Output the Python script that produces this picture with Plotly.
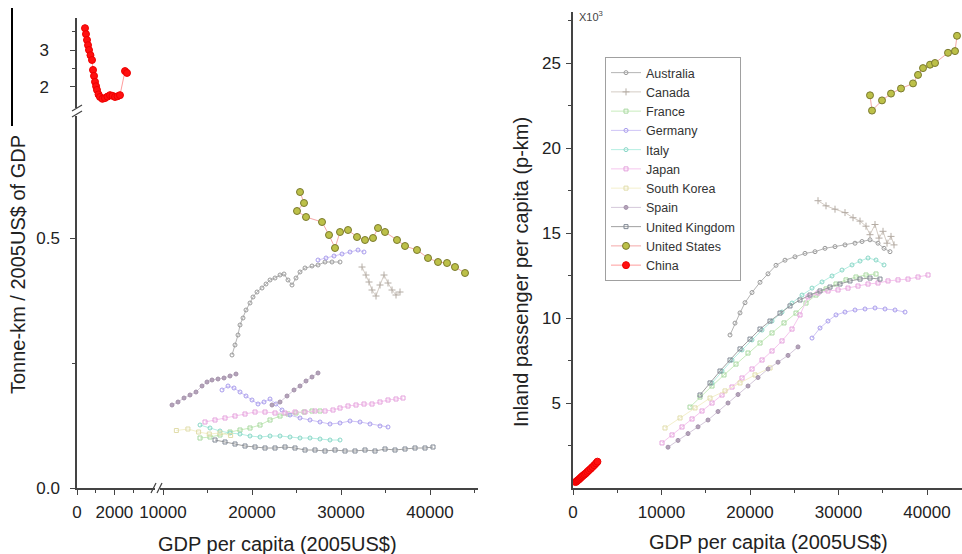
import plotly.graph_objects as go

W, H = 962, 554

# ---------------- data ----------------
# Left panel (freight intensity, tonne-km / 2005US$ GDP) vs GDP per capita
cn_l_gdp = [428, 480, 535, 590, 642, 720, 802, 856, 910, 963, 1020, 1070, 1150, 1230, 1360, 1497, 1630, 1765, 1900, 2032, 2170, 2299, 2567, 2674]
cn_l_y = [3.59, 3.43, 3.27, 3.13, 3.00, 2.86, 2.73, 2.46, 2.30, 2.14, 2.02, 1.92, 1.80, 1.73, 1.68, 1.70, 1.74, 1.78, 1.76, 1.73, 1.75, 1.78, 2.43, 2.38]

us_l_gdp = [25393, 25843, 25056, 26067, 27865, 28652, 29326, 29888, 30787, 31798, 32697, 33596, 34157, 34944, 36292, 37191, 38539, 39775, 40899, 41910, 42809, 43933]
us_l_y = [0.592, 0.570, 0.554, 0.542, 0.532, 0.506, 0.480, 0.512, 0.516, 0.502, 0.496, 0.500, 0.520, 0.512, 0.496, 0.484, 0.476, 0.460, 0.452, 0.450, 0.442, 0.430]

au_l_gdp = [17753, 18090, 18427, 18652, 18989, 19326, 19775, 20112, 20562, 21124, 21573, 22022, 22584, 23146, 23596, 24045, 24494, 24944, 25393, 25955, 26742, 27416, 28202, 28989, 29888]
au_l_y = [0.266, 0.286, 0.306, 0.326, 0.340, 0.356, 0.370, 0.382, 0.392, 0.400, 0.408, 0.416, 0.420, 0.426, 0.428, 0.416, 0.406, 0.420, 0.432, 0.440, 0.444, 0.446, 0.452, 0.452, 0.452]

ca_l_gdp = [32360, 32809, 33146, 33483, 33933, 34382, 34831, 35281, 35730, 36180, 36629]
ca_l_y = [0.442, 0.426, 0.412, 0.396, 0.384, 0.406, 0.426, 0.410, 0.396, 0.386, 0.392]

fr_l_gdp = [14157, 15281, 16404, 17528, 18652, 19775, 20899, 22022, 23146, 24045, 24944, 25843, 26742, 27640]
fr_l_y = [0.100, 0.102, 0.106, 0.112, 0.116, 0.120, 0.126, 0.136, 0.144, 0.148, 0.150, 0.152, 0.154, 0.154]

de_l_gdp = [27416, 28315, 29213, 30112, 31011, 31910, 32584, None,
            16629, 17303, 17978, 18652, 19326, 20000, 20674, 21348, 22022, 22697, 23371, 24270, 25393, 26517, 27640, 28764, 29888, 31011, 32135, 33258, 34382, 35281]
de_l_y = [0.456, 0.460, 0.464, 0.468, 0.472, 0.476, 0.472, None,
          0.196, 0.204, 0.200, 0.192, 0.184, 0.176, 0.168, 0.172, 0.178, 0.168, 0.156, 0.146, 0.140, 0.136, 0.132, 0.128, 0.130, 0.134, 0.132, 0.128, 0.124, 0.122]

it_l_gdp = [14157, 15281, 16404, 17528, 18652, 19775, 20899, 22022, 23146, 24270, 25393, 26517, 27640, 28764, 29888]
it_l_y = [0.126, 0.120, 0.114, 0.110, 0.108, 0.104, 0.102, 0.104, 0.104, 0.102, 0.100, 0.100, 0.098, 0.096, 0.096]

jp_l_gdp = [14719, 15843, 16966, 18090, 19213, 20337, 21461, 22584, 23708, 24831, 25955, 27079, 28202, 29101, 29888, 30787, 31685, 32584, 33483, 34382, 35281, 36180, 36966]
jp_l_y = [0.132, 0.136, 0.140, 0.144, 0.148, 0.152, 0.152, 0.150, 0.150, 0.152, 0.152, 0.154, 0.154, 0.156, 0.160, 0.164, 0.166, 0.168, 0.168, 0.172, 0.176, 0.178, 0.180]

kr_l_gdp = [11500, 12800, 14000, 15200, 16400, 17600]
kr_l_y = [0.115, 0.118, 0.112, 0.108, 0.110, 0.105]

sp_l_gdp = [11011, 11685, 12360, 13034, 13708, 14382, 14944, 15506, 16180, 16854, 17528, 18202, None, 22247, 23146, 23933, 24719, 25393, 26067, 26742, 27416]
sp_l_y = [0.166, 0.172, 0.180, 0.186, 0.192, 0.204, 0.212, 0.216, 0.218, 0.220, 0.224, 0.228, None, 0.166, 0.172, 0.184, 0.196, 0.204, 0.214, 0.222, 0.230]

uk_l_gdp = [15843, 16966, 18090, 19213, 20337, 21461, 22584, 23708, 24831, 25955, 27079, 28202, 29326, 30449, 31573, 32697, 33820, 34944, 36067, 37191, 38315, 39438, 40337]
uk_l_y = [0.096, 0.092, 0.088, 0.084, 0.082, 0.080, 0.080, 0.082, 0.080, 0.076, 0.076, 0.074, 0.076, 0.074, 0.074, 0.076, 0.074, 0.078, 0.076, 0.078, 0.080, 0.080, 0.082]

# Right panel (inland passenger-km per capita, x10^3) vs GDP per capita
cn_r_gdp = [300, 420, 540, 660, 780, 900, 1020, 1150, 1300, 1460, 1620, 1800, 1990, 2190, 2400, 2600, 2760]
cn_r_y = [0.35, 0.40, 0.45, 0.50, 0.56, 0.62, 0.68, 0.74, 0.80, 0.87, 0.95, 1.04, 1.13, 1.23, 1.34, 1.45, 1.55]

us_r_gdp = [33559, 33785, 34915, 35932, 37062, 38418, 38983, 39548, 40339, 40904, 42373, 43164, 43390]
us_r_y = [23.1, 22.2, 22.8, 23.2, 23.5, 23.8, 24.3, 24.7, 24.9, 25.0, 25.6, 25.7, 26.6]

au_r_gdp = [17740, 18305, 18870, 19435, 20226, 21130, 22034, 22938, 23955, 25085, 26215, 27345, 28475, 29605, 30735, 31864, 32655, 33559, 34463, 35141, 35819]
au_r_y = [9.0, 9.7, 10.3, 10.9, 11.5, 12.1, 12.6, 13.1, 13.4, 13.6, 13.8, 13.9, 14.1, 14.2, 14.3, 14.4, 14.5, 14.6, 14.4, 14.1, 13.9]

ca_r_gdp = [27685, 28589, 29606, 30736, 31640, 32431, 33109, 33561, 34126, 34578, 35030, 35482, 35934, 36273]
ca_r_y = [16.9, 16.6, 16.4, 16.2, 15.9, 15.7, 15.4, 14.9, 15.5, 14.7, 15.1, 14.4, 14.8, 14.3]

fr_r_gdp = [13221, 14351, 15707, 17063, 18419, 19775, 21131, 22487, 23843, 25199, 26329, 27459, 28589, 29719, 30849, 31979, 33109, 34239]
fr_r_y = [4.76, 5.35, 6.00, 6.65, 7.29, 7.94, 8.53, 9.12, 9.71, 10.29, 10.88, 11.35, 11.71, 12.00, 12.24, 12.41, 12.53, 12.59]

de_r_gdp = [27007, 27911, 28815, 29719, 30736, 31866, 32996, 34126, 35256, 36386, 37516]
de_r_y = [8.82, 9.41, 9.82, 10.18, 10.35, 10.47, 10.53, 10.59, 10.53, 10.47, 10.35]

it_r_gdp = [15707, 16837, 17967, 19097, 20227, 21357, 22487, 23617, 24747, 25877, 27007, 28137, 29267, 30397, 31527, 32431, 33335, 34239, 35143]
it_r_y = [6.18, 6.88, 7.53, 8.12, 8.71, 9.29, 9.82, 10.35, 10.88, 11.35, 11.76, 12.12, 12.47, 12.82, 13.12, 13.35, 13.53, 13.41, 13.12]

jp_r_gdp = [10057, 11187, 12317, 13447, 14577, 15707, 16837, 17967, 19097, 20227, 21357, 22487, 23617, 24747, 25651, 26555, 27685, 28815, 29945, 31075, 32205, 33335, 34465, 35595, 36725, 37855, 38985, 40115]
jp_r_y = [2.65, 3.12, 3.59, 4.06, 4.53, 5.00, 5.47, 5.94, 6.47, 7.00, 7.53, 8.06, 8.65, 9.35, 10.18, 11.24, 11.47, 11.59, 11.65, 11.76, 11.88, 12.00, 12.06, 12.18, 12.24, 12.29, 12.41, 12.53]

kr_r_gdp = [10396, 12091, 13786, 15481, 17176, 18871, 20566, 22261]
kr_r_y = [3.53, 4.12, 4.71, 5.29, 5.71, 6.18, 6.65, 7.06]

sp_r_gdp = [10735, 11865, 12995, 14125, 15255, 16385, 17515, 18645, 19775, 20905, 22035, 23165, 24295, 25425]
sp_r_y = [2.4, 2.8, 3.2, 3.6, 4.0, 4.5, 5.0, 5.5, 6.0, 6.5, 7.0, 7.4, 7.8, 8.3]

uk_r_gdp = [14351, 15481, 16611, 17741, 18871, 20001, 21131, 22261, 23391, 24521, 25651, 26781, 27911, 29041, 30171, 31301, 32431, 33561, 34691]
uk_r_y = [5.47, 6.18, 6.88, 7.53, 8.18, 8.76, 9.35, 9.82, 10.29, 10.71, 11.06, 11.35, 11.59, 11.82, 12.00, 12.18, 12.29, 12.35, 12.29]

countries = ["Australia", "Canada", "France", "Germany", "Italy", "Japan",
             "South Korea", "Spain", "United Kingdom", "United States", "China"]

left_data = {
    "Australia": (au_l_gdp, au_l_y), "Canada": (ca_l_gdp, ca_l_y), "France": (fr_l_gdp, fr_l_y),
    "Germany": (de_l_gdp, de_l_y), "Italy": (it_l_gdp, it_l_y), "Japan": (jp_l_gdp, jp_l_y),
    "South Korea": (kr_l_gdp, kr_l_y), "Spain": (sp_l_gdp, sp_l_y), "United Kingdom": (uk_l_gdp, uk_l_y),
    "United States": (us_l_gdp, us_l_y), "China": (cn_l_gdp, cn_l_y),
}
right_data = {
    "Australia": (au_r_gdp, au_r_y), "Canada": (ca_r_gdp, ca_r_y), "France": (fr_r_gdp, fr_r_y),
    "Germany": (de_r_gdp, de_r_y), "Italy": (it_r_gdp, it_r_y), "Japan": (jp_r_gdp, jp_r_y),
    "South Korea": (kr_r_gdp, kr_r_y), "Spain": (sp_r_gdp, sp_r_y), "United Kingdom": (uk_r_gdp, uk_r_y),
    "United States": (us_r_gdp, us_r_y), "China": (cn_r_gdp, cn_r_y),
}

# ---------------- styles ----------------
styles = {
    "Australia":      dict(line="#b4b4b4", mcol="#9a9a9a", sym="circle-open", size=4, mline="#9a9a9a"),
    "Canada":         dict(line="#d4ccc4", mcol="#b4aca4", sym="cross-thin-open", size=5, mline="#b4aca4"),
    "France":         dict(line="#c8ecbc", mcol="#a8d8a0", sym="square-open", size=4, mline="#a8d8a0"),
    "Germany":        dict(line="#cfc4f6", mcol="#a89cec", sym="circle-open", size=4, mline="#a89cec"),
    "Italy":          dict(line="#b4eee2", mcol="#88d6c6", sym="circle-open", size=4, mline="#88d6c6"),
    "Japan":          dict(line="#f6c6ee", mcol="#e4a0dc", sym="square-open", size=4, mline="#e4a0dc"),
    "South Korea":    dict(line="#f4f0cc", mcol="#e0dcaa", sym="square-open", size=4, mline="#e0dcaa"),
    "Spain":          dict(line="#d4c8da", mcol="#b4a2ba", sym="circle", size=4, mline="#a492aa"),
    "United Kingdom": dict(line="#a0a0a0", mcol="#808894", sym="square-open", size=4, mline="#808894"),
    "United States":  dict(line="#f4a8a8", mcol="#bcc048", sym="circle", size=7, mline="#7a7a2e"),
    "China":          dict(line="#ff9c9c", mcol="#ff1010", sym="circle", size=7, mline="#ee0000"),
}

fig = go.Figure()
for name in countries:
    st = styles[name]
    marker = dict(symbol=st["sym"], size=st["size"], color=st["mcol"],
                  line=dict(color=st["mline"], width=1))
    lx, ly = left_data[name]
    if name == "China":
        xa, ya = "x", "y3"
    else:
        xa, ya = "x2", "y"
    fig.add_trace(go.Scatter(x=lx, y=ly, mode="lines+markers", name=name, legendgroup=name,
                             line=dict(color=st["line"], width=1), marker=marker,
                             xaxis=xa, yaxis=ya, showlegend=True, connectgaps=False))
    rx, ry = right_data[name]
    fig.add_trace(go.Scatter(x=rx, y=ry, mode="lines+markers", name=name, legendgroup=name,
                             line=dict(color=st["line"], width=1), marker=marker,
                             xaxis="x3", yaxis="y4", showlegend=False))

# ---------------- layout ----------------
def px_x(p):
    return p / W

def px_y(p):
    return (H - p) / H

AX = dict(showline=True, linecolor="#444", linewidth=1.5, ticks="outside", ticklen=5,
          tickwidth=1, tickcolor="#444", showgrid=False, zeroline=False, automargin=False,
          tickfont=dict(size=17, color="#222"), fixedrange=True)
XSTAND = 3
YSTAND = 7

fig.update_layout(
    width=W, height=H, margin=dict(l=0, r=0, t=0, b=0, autoexpand=False),
    paper_bgcolor="white", plot_bgcolor="white",
    font=dict(family="Liberation Sans, Arial, sans-serif", size=17, color="#222"),
    showlegend=True,
    legend=dict(x=px_x(605), y=px_y(57), xanchor="left", yanchor="top",
                bordercolor="#a0a0a0", borderwidth=1, bgcolor="rgba(255,255,255,0.9)",
                font=dict(size=12.5, color="#333"), tracegroupgap=0, itemwidth=30),
    # left panel, first x segment (China)
    xaxis=dict(AX, domain=[px_x(77), px_x(155)], range=[0, 4171], anchor="y",
               tickmode="array", tickvals=[0, 2000], ticktext=["0", "2000"], ticklabelstandoff=XSTAND,
               minor=dict(tickvals=[1000, 3000], ticks="outside", ticklen=3, tickcolor="#444")),
    # left panel, second x segment
    xaxis2=dict(AX, domain=[px_x(160), px_x(478)], range=[9663, 45393], anchor="y",
                tickmode="array", tickvals=[10000, 20000, 30000, 40000],
                ticktext=["10000", "20000", "30000", "40000"], ticklabelstandoff=XSTAND,
                minor=dict(tickvals=[15000, 25000, 35000, 45000], ticks="outside", ticklen=3, tickcolor="#444")),
    # left panel, lower y segment
    yaxis=dict(AX, domain=[px_y(488), px_y(116)], range=[0, 0.744], anchor="x",
               tickmode="array", tickvals=[0, 0.5], ticktext=["0.0", "0.5"], ticklabelstandoff=YSTAND,
               minor=dict(tickvals=[0.25], ticks="outside", ticklen=3, tickcolor="#444")),
    # left panel, upper y segment
    yaxis3=dict(AX, domain=[px_y(108), px_y(18)], range=[1.432, 3.865], anchor="x",
                tickmode="array", tickvals=[2, 3], ticktext=["2", "3"], ticklabelstandoff=18,
                minor=dict(tickvals=[2.5, 3.5], ticks="outside", ticklen=3, tickcolor="#444")),
    # right panel
    xaxis3=dict(AX, domain=[px_x(573), 1.0], range=[0, 43955], anchor="y4",
                tickmode="array", tickvals=[0, 10000, 20000, 30000, 40000],
                ticktext=["0", "10000", "20000", "30000", "40000"], ticklabelstandoff=XSTAND,
                minor=dict(tickvals=[5000, 15000, 25000, 35000], ticks="outside", ticklen=3, tickcolor="#444")),
    yaxis4=dict(AX, domain=[px_y(488), px_y(12)], range=[0, 28], anchor="x3",
                tickmode="array", tickvals=[5, 10, 15, 20, 25], ticktext=["5", "10", "15", "20", "25"],
                ticklabelstandoff=2,
                minor=dict(tickvals=[2.5, 7.5, 12.5, 17.5, 22.5, 27.5], ticks="outside", ticklen=3, tickcolor="#444")),
)

ann_font = dict(family="Liberation Sans, Arial, sans-serif", size=20, color="#222")
fig.add_annotation(x=px_x(18), y=px_y(265), xref="paper", yref="paper", text="Tonne-km / 2005US$ of GDP",
                   textangle=-90, showarrow=False, font=ann_font, xanchor="center", yanchor="middle")
fig.add_annotation(x=px_x(521), y=px_y(272), xref="paper", yref="paper", text="Inland passenger per capita (p-km)",
                   textangle=-90, showarrow=False, font=ann_font, xanchor="center", yanchor="middle")
fig.add_annotation(x=px_x(277), y=px_y(544), xref="paper", yref="paper", text="GDP per capita (2005US$)",
                   showarrow=False, font=ann_font, xanchor="center", yanchor="middle")
fig.add_annotation(x=px_x(768), y=px_y(542), xref="paper", yref="paper", text="GDP per capita (2005US$)",
                   showarrow=False, font=ann_font, xanchor="center", yanchor="middle")
fig.add_annotation(x=px_x(577), y=px_y(16), xref="paper", yref="paper", text="X10<sup>3</sup>",
                   showarrow=False, font=dict(family="Liberation Sans, Arial, sans-serif", size=11, color="#444"),
                   xanchor="left", yanchor="middle")

# axis break marks and frame line
line_style = dict(color="#444", width=1.2)
for (x0, y0, x1, y1) in [(151, 493, 156, 483), (157, 493, 162, 483),
                         (72, 111, 82, 105), (72, 117, 82, 111)]:
    fig.add_shape(type="line", xref="paper", yref="paper",
                  x0=px_x(x0), y0=px_y(y0), x1=px_x(x1), y1=px_y(y1), line=line_style)
fig.add_shape(type="line", xref="paper", yref="paper", x0=px_x(12), y0=px_y(8), x1=px_x(12), y1=px_y(126),
              line=dict(color="black", width=2))

fig.write_html("out.html")
